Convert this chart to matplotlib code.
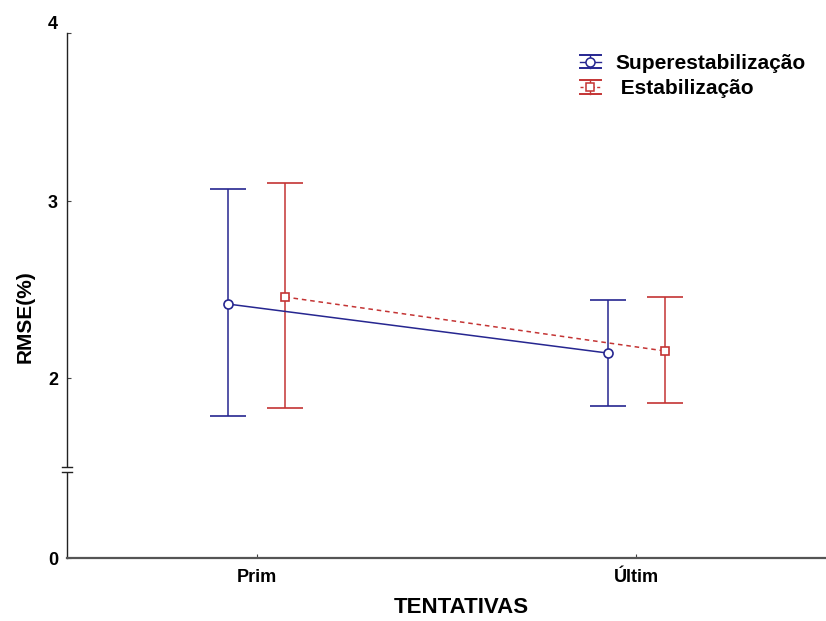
import matplotlib
matplotlib.use("Agg")
import matplotlib.pyplot as plt
import numpy as np
from matplotlib import font_manager
from matplotlib.legend_handler import HandlerBase
from matplotlib.lines import Line2D

# Mean RMSE with 95% CI per trial, for each group
tentativas = ["Prim", "Últim"]
super_mean = [2.418, 2.141]
super_low = [1.785, 1.842]
super_high = [3.068, 2.441]
estab_mean = [2.458, 2.153]
estab_low = [1.830, 1.859]
estab_high = [3.102, 2.458]

BLUE = "#262690"
RED = "#c43434"

installed = {f.name for f in font_manager.fontManager.ttflist}
NARROW = "Liberation Sans Narrow" if "Liberation Sans Narrow" in installed else "Liberation Sans"
plt.rcParams["font.family"] = ["Liberation Sans", "DejaVu Sans"]

# broken y axis: values below BRK are squeezed
BRK = 1.5
K = 0.345


def fwd(y):
    y = np.asarray(y, dtype=float)
    return np.where(y >= BRK, y, BRK - (BRK - y) * K)


def inv(v):
    v = np.asarray(v, dtype=float)
    return np.where(v >= BRK, v, BRK - (BRK - v) / K)


class ErrIcon(HandlerBase):
    """Legend key drawn as a small error bar: caps, stem, line and marker."""

    def create_artists(self, legend, orig, xd, yd, width, height, fontsize, trans):
        c = orig.get_color()
        mid = height / 2 - yd
        half = 4.8
        x0, x1 = -xd, width - xd
        xm = (x0 + x1) / 2
        dashed = orig.get_linestyle() == "--"
        arts = [
            Line2D([x0, x1], [mid + half] * 2, color=c, lw=1.4),
            Line2D([x0, x1], [mid - half] * 2, color=c, lw=1.4),
            Line2D([xm, xm], [mid - half, mid + half], color=c, lw=1.0),
            Line2D([x0, x1], [mid, mid], color=c, lw=1.0,
                   dashes=(2.2, 1.8) if dashed else (None, None)),
            Line2D([xm], [mid], color=c, marker=orig.get_marker(), ms=orig.get_markersize(),
                   mfc="white", mec=c, mew=1.1, ls="none"),
        ]
        for a in arts:
            a.set_transform(trans)
        return arts


fig = plt.figure(figsize=(8.26, 6.21), dpi=100)
ax = fig.add_axes([0.0811, 0.1014, 0.9189, 0.8454])
ax.set_yscale("function", functions=(fwd, inv))

x = np.arange(len(tentativas))
dx = 0.075
for off, mean, low, high, color, ls, mk, ms in [
    (-dx, super_mean, super_low, super_high, BLUE, "-", "o", 6.5),
    (dx, estab_mean, estab_low, estab_high, RED, "--", "s", 5.5),
]:
    mean = np.array(mean)
    yerr = [mean - np.array(low), np.array(high) - mean]
    ax.errorbar(x + off, mean, yerr=yerr, color=color, lw=1.1, ls=ls,
                dashes=(3, 2.5) if ls == "--" else (None, None),
                marker=mk, ms=ms, mfc="white", mec=color, mew=1.2,
                ecolor=color, elinewidth=1.1, capsize=13, capthick=1.1, zorder=3)

ax.set_xlim(-0.5, 1.5)
ax.set_ylim(0, 3.95)
ax.set_xticks(x, tentativas)
ax.set_yticks([0, 2, 3, 3.95], ["0", "2", "3", ""])
ax.annotate("4", xy=(0, 4), xycoords=("axes fraction", "data"), xytext=(-6.5, 0),
            textcoords="offset points", ha="right", va="center",
            fontsize=13, fontweight="bold", fontfamily=NARROW)

for lab in ax.get_xticklabels() + ax.get_yticklabels():
    lab.set_fontweight("bold")
    lab.set_fontsize(13)
    lab.set_fontfamily(NARROW)
ax.tick_params(axis="both", direction="in", length=3, width=0.8, color="#444444")
ax.tick_params(axis="y", pad=6.5)
ax.tick_params(axis="x", pad=8)

for side in ("top", "right"):
    ax.spines[side].set_visible(False)
ax.spines["left"].set_color("#222222")
ax.spines["bottom"].set_color("#555555")
ax.spines["left"].set_linewidth(1.0)
ax.spines["bottom"].set_linewidth(1.6)

# axis break marks on the y spine
y_hi, y_lo = 0.174, 0.163
ax.plot([0, 0], [y_lo, y_hi], transform=ax.transAxes, color="white", lw=3,
        clip_on=False, zorder=5, solid_capstyle="butt")
for yb in (y_lo, y_hi):
    ax.plot([-0.0066, 0.0066], [yb, yb], transform=ax.transAxes, color="#222222",
            lw=1.0, clip_on=False, zorder=6)

ax.set_ylabel("RMSE(%)", fontsize=15, fontweight="bold")
ax.yaxis.set_label_coords(-0.043, 0.46)
ax.set_xlabel("TENTATIVAS", fontsize=16, fontweight="bold", fontfamily=NARROW)
ax.xaxis.set_label_coords(0.52, -0.075)

handles = [
    Line2D([], [], color=BLUE, ls="-", marker="o", ms=6.5),
    Line2D([], [], color=RED, ls="--", marker="s", ms=5.5),
]
ax.legend(handles, ["Superestabilização", " Estabilização"], handler_map={Line2D: ErrIcon()},
          loc="upper left", bbox_to_anchor=(0.662, 0.98), frameon=False,
          prop={"weight": "bold", "size": 15}, handlelength=1.0, handletextpad=0.7,
          labelspacing=0.3, borderpad=0)

fig.savefig("out.png", dpi=100)
